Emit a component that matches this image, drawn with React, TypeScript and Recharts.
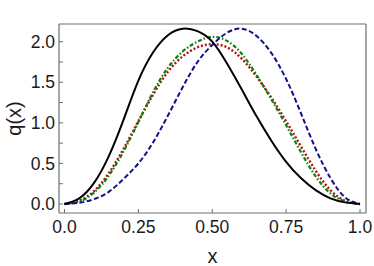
import React from "react";
import { LineChart, Line, XAxis, YAxis } from "recharts";

const xs = [0, 0.05, 0.1, 0.15, 0.2, 0.25, 0.3, 0.35, 0.4, 0.45, 0.5, 0.55, 0.6, 0.65, 0.7, 0.75, 0.8, 0.85, 0.9, 0.95, 1.0];
const blackSeries = [0, 0.07, 0.26, 0.59, 1.04, 1.52, 1.87, 2.08, 2.16, 2.13, 2.0, 1.73, 1.41, 1.08, 0.78, 0.52, 0.32, 0.17, 0.07, 0.02, 0];
const blueSeries = [0, 0.015, 0.06, 0.15, 0.31, 0.5, 0.76, 1.09, 1.44, 1.75, 1.96, 2.11, 2.16, 2.07, 1.86, 1.54, 1.12, 0.68, 0.32, 0.08, 0];
const greenSeries = [0, 0.03, 0.14, 0.35, 0.65, 1.01, 1.38, 1.68, 1.88, 2.0, 2.06, 2.01, 1.85, 1.59, 1.29, 0.97, 0.64, 0.34, 0.13, 0.03, 0];
const redSeries = [0, 0.04, 0.16, 0.38, 0.68, 1.02, 1.35, 1.63, 1.82, 1.93, 1.97, 1.93, 1.79, 1.57, 1.31, 1.02, 0.71, 0.41, 0.17, 0.04, 0];

const xTicks = [0, 0.25, 0.5, 0.75, 1];
const xTickLabels = ["0.0", "0.25", "0.50", "0.75", "1.0"];
const yTicks = [0, 0.25, 0.5, 0.75, 1, 1.25, 1.5, 1.75, 2];
const yTickLabels = ["0.0", "", "0.5", "", "1.0", "", "1.5", "", "2.0"];

const data = xs.map((x, i) => ({
  x,
  black: blackSeries[i],
  blue: blueSeries[i],
  green: greenSeries[i],
  red: redSeries[i],
}));

const FONT = "'Liberation Sans', Arial, Helvetica, sans-serif";
const FRAME = "#6e6e6e";
const xDomain = [-0.0186, 1.0203];
const yDomain = [-0.111, 2.218];

const fmtX = (v: number) => {
  const i = xTicks.findIndex((t) => Math.abs(t - v) < 1e-9);
  return i >= 0 ? xTickLabels[i] : "";
};
const fmtY = (v: number) => {
  const i = yTicks.findIndex((t) => Math.abs(t - v) < 1e-9);
  return i >= 0 ? yTickLabels[i] : "";
};

const YLabel = (props: any) => {
  const vb = props.viewBox || {};
  const cx = 14;
  const cy = (vb.y || 0) + (vb.height || 0) / 2;
  return (
    <text
      x={cx}
      y={cy}
      transform={`rotate(-90, ${cx}, ${cy})`}
      textAnchor="middle"
      dominantBaseline="central"
      fontSize={20}
      fontFamily={FONT}
      fill="#1a1a1a"
    >
      q(x)
    </text>
  );
};

export default function App() {
  return (
    <div style={{ position: "absolute", left: 0, top: 0, width: 374, height: 266, background: "#fff" }}>
      <LineChart width={374} height={266} data={data} margin={{ top: 0, right: 0, bottom: 0, left: 0 }}>
        <XAxis
          xAxisId="bottom"
          dataKey="x"
          type="number"
          orientation="bottom"
          domain={xDomain}
          allowDataOverflow
          ticks={xTicks}
          tickFormatter={fmtX}
          height={53}
          tickSize={-4}
          tickMargin={12}
          axisLine={{ stroke: FRAME, strokeWidth: 1.2 }}
          tickLine={{ stroke: FRAME, strokeWidth: 1 }}
          tick={{ fontSize: 17.5, fontFamily: FONT, fill: "#1a1a1a" }}
          interval={0}
          label={{ value: "x", position: "insideBottom", offset: 3, fontSize: 20, fontFamily: FONT, fill: "#1a1a1a" }}
        />
        <XAxis
          xAxisId="top"
          dataKey="x"
          type="number"
          orientation="top"
          domain={xDomain}
          allowDataOverflow
          ticks={xTicks}
          tick={false}
          height={24}
          tickSize={-4}
          axisLine={{ stroke: FRAME, strokeWidth: 1.2 }}
          tickLine={{ stroke: FRAME, strokeWidth: 1 }}
          interval={0}
        />
        <YAxis
          yAxisId="left"
          type="number"
          orientation="left"
          domain={yDomain}
          allowDataOverflow
          ticks={yTicks}
          tickFormatter={fmtY}
          width={59}
          tickSize={-4}
          tickMargin={8}
          axisLine={{ stroke: FRAME, strokeWidth: 1.2 }}
          tickLine={{ stroke: FRAME, strokeWidth: 1 }}
          tick={{ fontSize: 17.5, fontFamily: FONT, fill: "#1a1a1a" }}
          interval={0}
          label={<YLabel />}
        />
        <YAxis
          yAxisId="right"
          type="number"
          orientation="right"
          domain={yDomain}
          allowDataOverflow
          ticks={yTicks}
          tick={false}
          width={8}
          tickSize={-4}
          axisLine={{ stroke: FRAME, strokeWidth: 1.2 }}
          tickLine={{ stroke: FRAME, strokeWidth: 1 }}
          interval={0}
        />
        <Line xAxisId="bottom" yAxisId="left" type="natural" dataKey="red" stroke="#b01010" strokeWidth={2.4} strokeDasharray="2 2" dot={false} isAnimationActive={false} />
        <Line xAxisId="bottom" yAxisId="left" type="natural" dataKey="green" stroke="#108010" strokeWidth={2.2} strokeDasharray="4 2 1.5 2" dot={false} isAnimationActive={false} />
        <Line xAxisId="bottom" yAxisId="left" type="natural" dataKey="blue" stroke="#10108a" strokeWidth={2} strokeDasharray="5 2.5" dot={false} isAnimationActive={false} />
        <Line xAxisId="bottom" yAxisId="left" type="natural" dataKey="black" stroke="#000000" strokeWidth={2} dot={false} isAnimationActive={false} />
      </LineChart>
    </div>
  );
}
